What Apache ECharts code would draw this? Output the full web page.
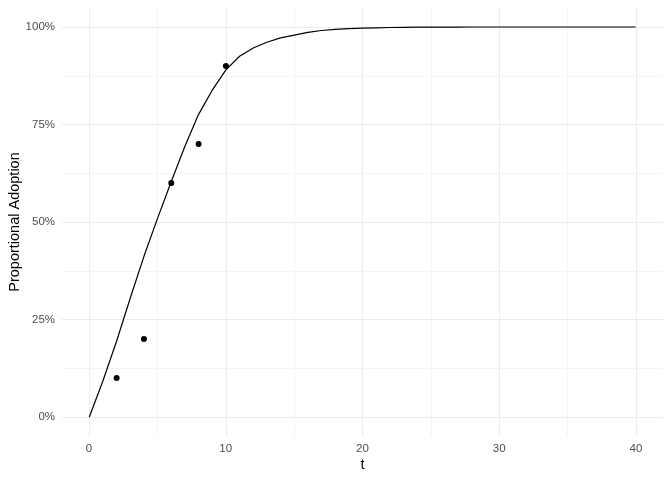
<!DOCTYPE html>
<html>
<head>
<meta charset="utf-8">
<script src="https://cdn.jsdelivr.net/npm/echarts@6/dist/echarts.min.js"></script>
<style>
  html, body { margin: 0; padding: 0; background: #ffffff; }
  #chart { width: 672px; height: 480px; }
</style>
</head>
<body>
<div id="chart"></div>
<script>
  // fitted adoption curve (t = 0..40)
  let curveT = [0, 1, 2, 3, 4, 5, 6, 7, 8, 9, 10, 11, 12, 13, 14, 15, 16, 17, 18, 19, 20,
    21, 22, 23, 24, 25, 26, 27, 28, 29, 30, 31, 32, 33, 34, 35, 36, 37, 38, 39, 40];
  let curveY = [0, 0.093, 0.195, 0.305, 0.412, 0.51, 0.604, 0.694, 0.776, 0.838, 0.89,
    0.925, 0.946, 0.961, 0.972, 0.979, 0.986, 0.991, 0.994, 0.996, 0.997,
    0.998, 0.9987, 0.9992, 0.9995, 0.9997, 0.9998, 0.9999, 1, 1, 1, 1, 1, 1, 1, 1, 1, 1, 1, 1, 1];
  // observed points
  let obsT = [2, 4, 6, 8, 10];
  let obsY = [0.10, 0.20, 0.60, 0.70, 0.90];

  let xTicks = [0, 10, 20, 30, 40];
  let yTicks = [0, 0.25, 0.5, 0.75, 1];

  let gridColor = '#EBEBEB';
  let labelColor = '#4D4D4D';
  let font = 'Liberation Sans';

  let myChart = echarts.init(document.getElementById('chart'));

  myChart.setOption({
    backgroundColor: '#ffffff',
    animation: false,
    textStyle: { fontFamily: font },
    grid: [
      // data panel (ggplot expands range 5% each side)
      { left: 62, right: 9, top: 7.5, bottom: 43.5, outerBoundsMode: 'none', containLabel: false },
      // y gridlines / labels, 0..100%
      { left: 62, right: 9, top: 27, bottom: 63, outerBoundsMode: 'none', containLabel: false },
      // x gridlines / labels, 0..40
      { left: 89, right: 36, top: 7.5, bottom: 43.5, outerBoundsMode: 'none', containLabel: false }
    ],
    xAxis: [
      { gridIndex: 0, type: 'value', min: -2, max: 42, show: false },
      { gridIndex: 1, type: 'value', min: 0, max: 1, show: false },
      {
        gridIndex: 2, type: 'value',
        min: xTicks[0], max: xTicks[xTicks.length - 1], interval: 10,
        name: 't', nameLocation: 'middle', nameGap: 21, nameMoveOverlap: false,
        nameTextStyle: { color: '#000000', fontSize: 14.5, fontFamily: font },
        axisLine: { show: false },
        axisTick: { show: false },
        axisLabel: { color: labelColor, fontSize: 11.5, margin: 6, fontFamily: font },
        splitLine: { show: true, lineStyle: { color: gridColor, width: 1 } },
        minorTick: { show: false, splitNumber: 2 },
        minorSplitLine: { show: true, lineStyle: { color: gridColor, width: 0.5 } }
      }
    ],
    yAxis: [
      { gridIndex: 0, type: 'value', min: -0.05, max: 1.05, show: false },
      {
        gridIndex: 1, type: 'value',
        min: yTicks[0], max: yTicks[yTicks.length - 1], interval: 0.25,
        name: 'Proportional Adoption', nameLocation: 'middle', nameGap: 40, nameMoveOverlap: false,
        nameTextStyle: { color: '#000000', fontSize: 14.5, fontFamily: font },
        axisLine: { show: false },
        axisTick: { show: false },
        axisLabel: {
          color: labelColor, fontSize: 11.5, margin: 7, fontFamily: font,
          formatter: function (v) { return Math.round(v * 100) + '%'; }
        },
        splitLine: { show: true, lineStyle: { color: gridColor, width: 1 } },
        minorTick: { show: false, splitNumber: 2 },
        minorSplitLine: { show: true, lineStyle: { color: gridColor, width: 0.5 } }
      },
      { gridIndex: 2, type: 'value', min: 0, max: 1, show: false }
    ],
    series: [
      {
        type: 'line',
        xAxisIndex: 0, yAxisIndex: 0,
        data: curveT.map((t, i) => [t, curveY[i]]),
        showSymbol: false,
        smooth: false,
        lineStyle: { color: '#000000', width: 1.2 },
        z: 3
      },
      {
        type: 'scatter',
        xAxisIndex: 0, yAxisIndex: 0,
        data: obsT.map((t, i) => [t, obsY[i]]),
        symbol: 'circle',
        symbolSize: 6,
        itemStyle: { color: '#000000', opacity: 1 },
        z: 4
      }
    ]
  });
</script>
</body>
</html>
